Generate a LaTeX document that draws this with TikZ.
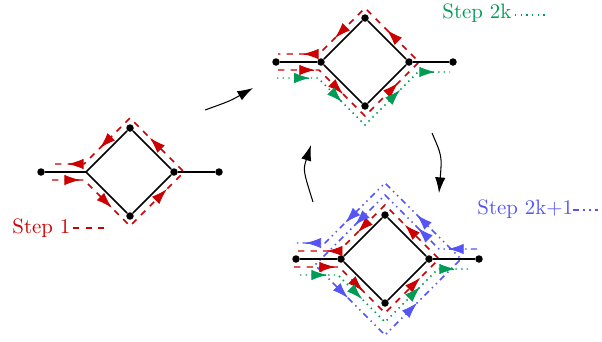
\documentclass[tikz,border=0pt]{standalone}
\usetikzlibrary{arrows.meta,calc}
\definecolor{stepred}{RGB}{204,0,0}
\definecolor{stepgreen}{RGB}{0,155,85}
\definecolor{stepblue}{RGB}{85,85,245}
\tikzset{
  edgeline/.style={line width=0.8pt, black},
  vtx/.style={circle, fill=black, inner sep=0pt, minimum size=3.6pt},
  redpath/.style={stepred, line width=0.7pt, dashed},
  greenpath/.style={stepgreen, line width=0.7pt, dotted},
  bluepath/.style={stepblue, line width=0.7pt, dash dot dot},
  headtip/.style={line width=0.4pt, -{Latex[length=7.5pt,width=5pt]}},
  movearrow/.style={line width=0.5pt, -{Latex[length=7.5pt,width=5pt]}},
  steplabel/.style={inner sep=0pt, anchor=base west}
}
% filled arrow head on the segment (#2)--(#3), its point at fraction #4
\newcommand\flowtip[4]{\draw[headtip, #1] ($(#2)!#4-0.02!(#3)$) -- ($(#2)!#4!(#3)$);}
\begin{document}
\begin{tikzpicture}[x=0.48pt, y=-0.48pt]
\useasboundingbox (0,0) rectangle (602,341);

% ---------------- graph 1: step 1 ----------------
\begin{scope}[shift={(130,172)}]
  \coordinate (aP1) at (-78,8);  \coordinate (aP2) at (-46,8);
  \coordinate (aP3) at (0,54);   \coordinate (aP4) at (54,0);
  \coordinate (aP5) at (0,-54);  \coordinate (aP6) at (-46,-8);
  \coordinate (aP7) at (-78,-8);
  \draw[redpath] (aP1) -- (aP2) -- (aP3) -- (aP4) -- (aP5) -- (aP6) -- (aP7);
  \node[vtx] (aL0) at (-89,0) {};
  \coordinate (aL) at (-44,0);
  \node[vtx] (aT) at (0,-44) {};
  \node[vtx] (aR) at (44,0) {};
  \node[vtx] (aB) at (0,44) {};
  \node[vtx] (aR0) at (89,0) {};
  \draw[edgeline] (aL0) -- (aL) -- (aT) -- (aR) -- (aB) -- (aL);
  \draw[edgeline] (aR) -- (aR0);
  \flowtip{stepred}{aP1}{aP2}{0.875}
  \flowtip{stepred}{aP2}{aP3}{0.6}
  \flowtip{stepred}{aP3}{aP4}{0.68}
  \flowtip{stepred}{aP4}{aP5}{0.63}
  \flowtip{stepred}{aP5}{aP6}{0.65}
  \flowtip{stepred}{aP6}{aP7}{0.5}
\end{scope}

% ---------------- graph 2: step 2k ----------------
\begin{scope}[shift={(365,62)}]
  \coordinate (bP1) at (-87,8);  \coordinate (bP2) at (-46,8);
  \coordinate (bP3) at (0,54);   \coordinate (bP4) at (54,0);
  \coordinate (bP5) at (0,-54);  \coordinate (bP6) at (-46,-8);
  \coordinate (bP7) at (-87,-8);
  \coordinate (bG1) at (-88,16); \coordinate (bG2) at (-47,16);
  \coordinate (bG3) at (0,63);   \coordinate (bG4) at (53,10);
  \coordinate (bG5) at (85,10);
  \draw[redpath] (bP1) -- (bP2) -- (bP3) -- (bP4) -- (bP5) -- (bP6) -- (bP7);
  \draw[greenpath] (bG1) -- (bG2) -- (bG3) -- (bG4) -- (bG5);
  \node[vtx] (bL0) at (-89,0) {};
  \node[vtx] (bL) at (-44,0) {};
  \node[vtx] (bT) at (0,-44) {};
  \node[vtx] (bR) at (44,0) {};
  \node[vtx] (bB) at (0,44) {};
  \node[vtx] (bR0) at (88,0) {};
  \draw[edgeline] (bL0) -- (bL) -- (bT) -- (bR) -- (bB) -- (bL);
  \draw[edgeline] (bR) -- (bR0);
  \flowtip{stepred}{bP1}{bP2}{0.9}
  \flowtip{stepred}{bP2}{bP3}{0.52}
  \flowtip{stepred}{bP3}{bP4}{0.61}
  \flowtip{stepred}{bP4}{bP5}{0.59}
  \flowtip{stepred}{bP5}{bP6}{0.65}
  \flowtip{stepred}{bP6}{bP7}{0.39}
  \flowtip{stepgreen}{bG1}{bG2}{0.8}
  \flowtip{stepgreen}{bG2}{bG3}{0.51}
  \flowtip{stepgreen}{bG3}{bG4}{0.66}
  \flowtip{stepgreen}{bG4}{bG5}{0.53}
\end{scope}

% ---------------- graph 3: step 2k+1 ----------------
\begin{scope}[shift={(385,259)}]
  \coordinate (cP1) at (-91,8);  \coordinate (cP2) at (-46,8);
  \coordinate (cP3) at (0,54);   \coordinate (cP4) at (54,0);
  \coordinate (cP5) at (0,-54);  \coordinate (cP6) at (-46,-8);
  \coordinate (cP7) at (-91,-8);
  \coordinate (cG1) at (-85,16); \coordinate (cG2) at (-47,16);
  \coordinate (cG3) at (0,63);   \coordinate (cG4) at (53,10);
  \coordinate (cG5) at (85,10);
  \coordinate (cB1) at (92,-10); \coordinate (cB2) at (54,-10);
  \coordinate (cB3) at (0,-64);  \coordinate (cB4) at (-70,6);
  \coordinate (cB5) at (0,76);   \coordinate (cB6) at (76,0);
  \coordinate (cB7) at (0,-76);  \coordinate (cB8) at (-60,-16);
  \coordinate (cB9) at (-90,-16);
  \draw[redpath] (cP1) -- (cP2) -- (cP3) -- (cP4) -- (cP5) -- (cP6) -- (cP7);
  \draw[greenpath] (cG1) -- (cG2) -- (cG3) -- (cG4) -- (cG5);
  \draw[bluepath] (cB1) -- (cB2) -- (cB3) -- (cB4) -- (cB5) -- (cB6)
                  -- (cB7) -- (cB8) -- (cB9);
  \node[vtx] (cL0) at (-89,0) {};
  \node[vtx] (cL) at (-44,0) {};
  \node[vtx] (cT) at (0,-44) {};
  \node[vtx] (cR) at (44,0) {};
  \node[vtx] (cB) at (0,44) {};
  \node[vtx] (cR0) at (94,0) {};
  \draw[edgeline] (cL0) -- (cL) -- (cT) -- (cR) -- (cB) -- (cL);
  \draw[edgeline] (cR) -- (cR0);
  \flowtip{stepred}{cP1}{cP2}{0.91}
  \flowtip{stepred}{cP2}{cP3}{0.52}
  \flowtip{stepred}{cP3}{cP4}{0.65}
  \flowtip{stepred}{cP4}{cP5}{0.63}
  \flowtip{stepred}{cP5}{cP6}{0.59}
  \flowtip{stepred}{cP6}{cP7}{0.27}
  \flowtip{stepgreen}{cG1}{cG2}{0.71}
  \flowtip{stepgreen}{cG2}{cG3}{0.51}
  \flowtip{stepgreen}{cG3}{cG4}{0.66}
  \flowtip{stepgreen}{cG4}{cG5}{0.53}
  \flowtip{stepblue}{cB1}{cB2}{0.76}
  \flowtip{stepblue}{cB2}{cB3}{0.39}
  \flowtip{stepblue}{cB3}{cB4}{0.43}
  \flowtip{stepblue}{cB4}{cB5}{0.47}
  \flowtip{stepblue}{cB5}{cB6}{0.42}
  \flowtip{stepblue}{cB6}{cB7}{0.58}
  \flowtip{stepblue}{cB7}{cB8}{0.66}
  \flowtip{stepblue}{cB8}{cB9}{0.65}
\end{scope}

% ---------------- moves between the steps ----------------
\coordinate (m1a) at (205,110); \coordinate (m1c) at (230,101); \coordinate (m1b) at (253,88);
\coordinate (m2a) at (432,133); \coordinate (m2c) at (442,156); \coordinate (m2b) at (439,193);
\coordinate (m3a) at (313,202); \coordinate (m3c) at (303,170); \coordinate (m3b) at (311,145);
\draw[movearrow] (m1a) .. controls (m1c) .. (m1b);
\draw[movearrow] (m2a) .. controls (m2c) .. (m2b);
\draw[movearrow] (m3a) .. controls (m3c) .. (m3b);

% ---------------- legends ----------------
\node[steplabel, text=stepred] (lab1) at (12,233) {Step 1};
\coordinate (k1a) at (73,228); \coordinate (k1b) at (105,228);
\draw[redpath] (k1a) -- (k1b);

\node[steplabel, text=stepgreen] (lab2) at (442,18) {Step 2k};
\coordinate (k2a) at (515,15); \coordinate (k2b) at (545,15);
\draw[greenpath] (k2a) -- (k2b);

\node[steplabel, text=stepblue] (lab3) at (477,214) {Step 2k+1};
\coordinate (k3a) at (573,210); \coordinate (k3b) at (598,210);
\draw[bluepath] (k3a) -- (k3b);
\end{tikzpicture}
\end{document}
